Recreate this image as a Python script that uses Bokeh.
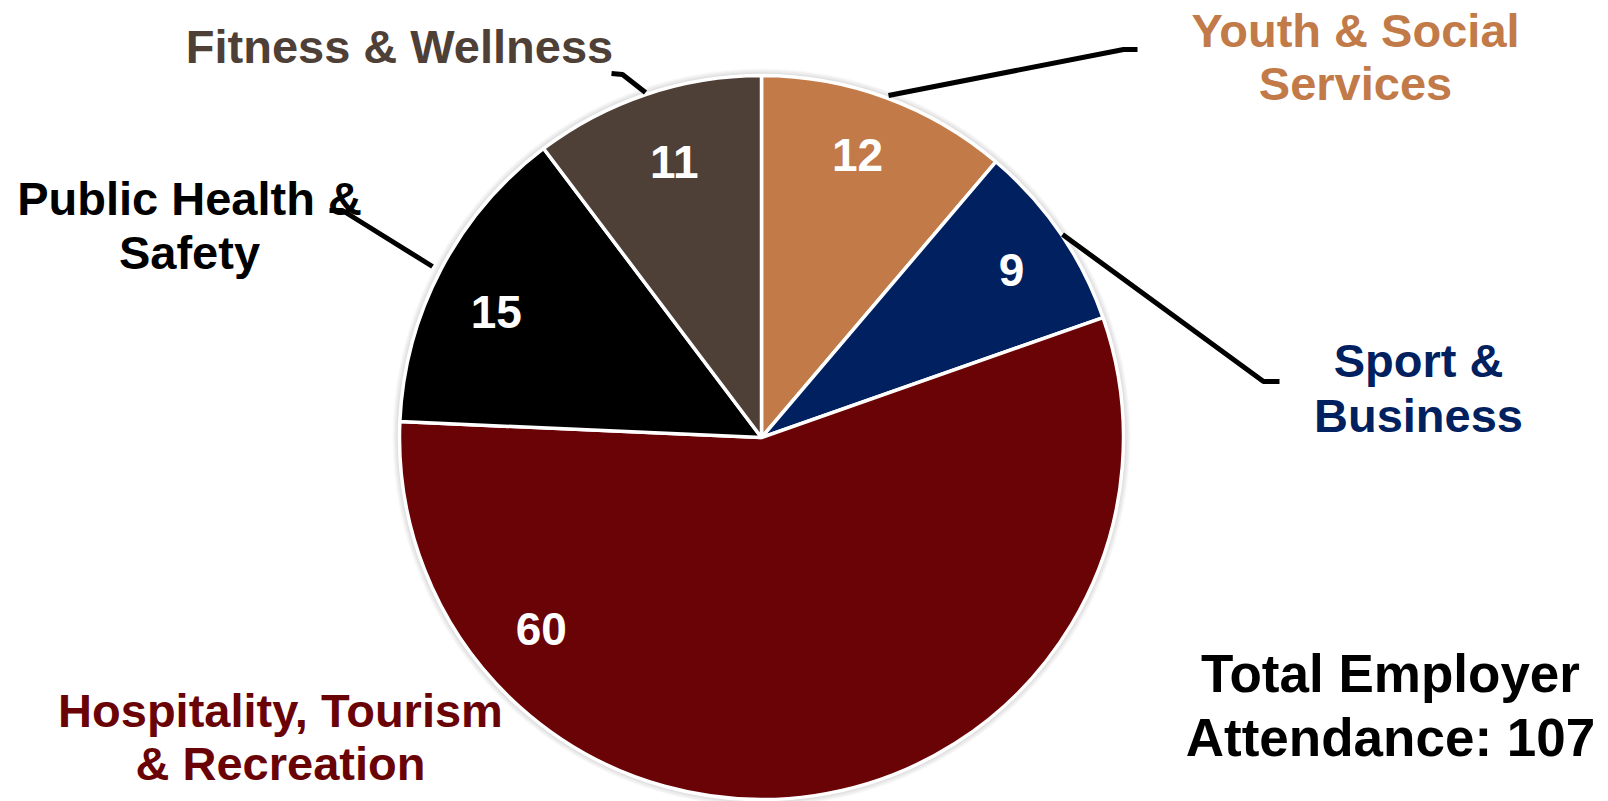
import math
from bokeh.plotting import figure
from bokeh.models import Range1d, ColumnDataSource
from bokeh.core.properties import value
from bokeh.embed import file_html
from bokeh.resources import INLINE

# ---------------- data ----------------
categories = ["Youth & Social Services", "Sport & Business",
              "Hospitality, Tourism & Recreation", "Public Health & Safety",
              "Fitness & Wellness"]
counts = [12, 9, 60, 15, 11]
label_lines = [["Youth & Social", "Services"], ["Sport &", "Business"],
               ["Hospitality, Tourism", "& Recreation"], ["Public Health &", "Safety"],
               ["Fitness & Wellness"]]
slice_colors = ["#C17A48", "#002060", "#6A0306", "#000000", "#4E4036"]
total_lines = ["Total Employer", "Attendance: " + str(sum(counts))]

# ---------------- layout (pixel space, y measured from top) ----------------
W, H = 1608, 801
CX, CY, R = 761, 437, 362
FONT = value("Liberation Sans")
TDY = -15  # baseline correction for text rendering

def Y(y):
    return H - y

p = figure(width=W, height=H, x_range=Range1d(0, W), y_range=Range1d(0, H),
           output_backend="svg", toolbar_location=None, min_border=0)
p.axis.visible = False
p.grid.visible = False
p.outline_line_color = None
p.background_fill_color = "white"
p.border_fill_color = "white"

# soft shadow
for k in range(1, 8):
    p.circle(x=[CX], y=[Y(CY)], radius=R + k, fill_color="black",
             fill_alpha=0.025, line_color=None)

total = sum(counts)
cum = [0]
for c in counts:
    cum.append(cum[-1] + c)
starts = [math.pi / 2 - 2 * math.pi * cum[i] / total for i in range(len(counts))]
ends = [math.pi / 2 - 2 * math.pi * cum[i + 1] / total for i in range(len(counts))]
src = ColumnDataSource(dict(x=[CX] * len(counts), y=[Y(CY)] * len(counts),
                            start=starts, end=ends, color=slice_colors, cat=categories))
p.wedge(x="x", y="y", radius=R, start_angle="start", end_angle="end",
        direction="clock", fill_color="color", line_color="white", line_width=3.5,
        source=src)

# value labels: angle (clockwise from top, deg) and radial distance
lab_angle = []
lab_dist = [300, 302, 291, 294, 290]
for i in range(len(counts)):
    mid = 360.0 * (cum[i] + counts[i] / 2) / total
    lab_angle.append(mid)
lab_angle[0] -= 1.5
lab_angle[1] += 0.4
lab_angle[2] = 229.2
lab_angle[3] -= 2.2
lab_angle[4] += 1.0
vx, vy = [], []
for a, d in zip(lab_angle, lab_dist):
    th = math.radians(a)
    vx.append(CX + d * math.sin(th))
    vy.append(Y(CY - d * math.cos(th) + 16.5 + TDY))
p.text(x=vx, y=vy, text=[str(c) for c in counts], text_color="white",
       text_font=FONT, text_font_style="bold", text_font_size="46px",
       text_align="center", text_baseline="alphabetic")

# category labels (center x, first baseline, line spacing)
cat_pos = [(1355, 45, 53), (1418, 375, 55), (280, 725, 53), (189, 213, 54), (399, 61, 0)]
for lines, col, (lx, ly, ls) in zip(label_lines, slice_colors, cat_pos):
    for j, t in enumerate(lines):
        p.text(x=[lx], y=[Y(ly + j * ls + TDY)], text=[t], text_color=col,
               text_font=FONT, text_font_style="bold", text_font_size="47px",
               text_align="center", text_baseline="alphabetic")

# leader lines
leaders = [
    [(888, 95), (1123, 49), (1137, 49)],
    [(1062, 234), (1263, 381), (1279, 381)],
    [(432, 266), (342, 210), (329, 210)],
    [(645, 92), (622, 74), (611, 73)],
]
for pts in leaders:
    p.line(x=[q[0] for q in pts], y=[Y(q[1]) for q in pts], line_color="black",
           line_width=5)

# total annotation
for j, t in enumerate(total_lines):
    p.text(x=[1390], y=[Y(688 + 64 * j + TDY)], text=[t], text_color="black",
           text_font=FONT, text_font_style="bold", text_font_size="53px",
           text_align="center", text_baseline="alphabetic")

open("out.html", "w").write(file_html(p, INLINE))
